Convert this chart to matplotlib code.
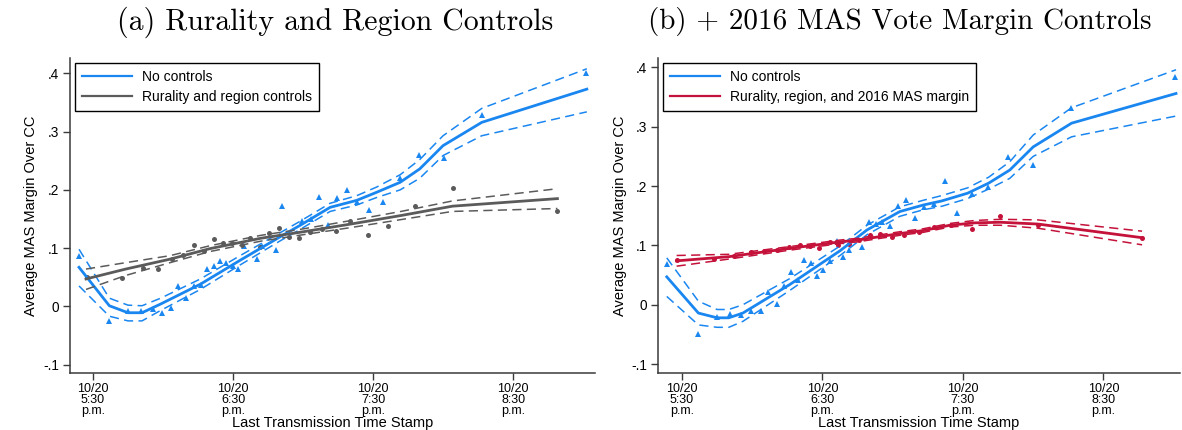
import matplotlib
matplotlib.use('Agg')
import matplotlib.pyplot as plt

# ---------------- data (x: minutes after 10/20 5:30 p.m.) ----------------
tick_pos = [0, 60, 120, 180]
tick_labels = ['10/20\n5:30\np.m.', '10/20\n6:30\np.m.', '10/20\n7:30\np.m.', '10/20\n8:30\np.m.']
ytick_vals = [-0.1, 0, 0.1, 0.2, 0.3, 0.4]
ytick_labels = ['-.1', '0', '.1', '.2', '.3', '.4']

# Panel (a): no controls (blue)
a_blue_x = [-6, 7, 15, 21, 29, 46, 63, 80, 88.7, 101.6, 113, 121.6, 131.6, 140, 150, 166.6, 211.6]
a_blue_y = [0.067, 0.001, -0.011, -0.011, 0.004, 0.038, 0.079, 0.119, 0.139, 0.170, 0.182, 0.196, 0.213, 0.236, 0.276, 0.316, 0.373]
a_blue_hi = [0.098, 0.014, 0.002, 0.001, 0.014, 0.047, 0.087, 0.126, 0.146, 0.177, 0.190, 0.205, 0.226, 0.252, 0.293, 0.340, 0.408]
a_blue_lo = [0.035, -0.017, -0.025, -0.025, -0.007, 0.029, 0.071, 0.112, 0.132, 0.163, 0.174, 0.187, 0.200, 0.220, 0.259, 0.293, 0.334]
a_blue_pts_x = [-6.0, 6.9, 14.9, 20.4, 25.5, 29.6, 33.3, 36.6, 39.9, 43.1, 46.3, 49.0, 51.9, 54.5, 57.0, 59.8,
                62.2, 64.6, 70.2, 72.4, 78.3, 81.1, 89.4, 93.6, 96.9, 100.6, 104.4, 108.7, 113.3, 118.4, 124.4,
                131.4, 139.8, 150.4, 166.8, 211.3]
a_blue_pts_y = [0.086, -0.025, -0.008, -0.0075, -0.005, -0.0115, -0.003, 0.035, 0.015, 0.035, 0.037, 0.064, 0.069,
                0.077, 0.074, 0.069, 0.064, 0.104, 0.082, 0.103, 0.096, 0.172, 0.146, 0.150, 0.187, 0.139, 0.186,
                0.199, 0.180, 0.165, 0.179, 0.220, 0.260, 0.254, 0.328, 0.400]

# Panel (a): rurality and region controls (gray)
a_gray_x = [-3, 14, 33, 50, 72, 90, 110, 132, 154, 199]
a_gray_y = [0.047, 0.064, 0.081, 0.099, 0.117, 0.128, 0.141, 0.156, 0.172, 0.185]
a_gray_hi = [0.064, 0.075, 0.087, 0.104, 0.122, 0.133, 0.147, 0.163, 0.181, 0.202]
a_gray_lo = [0.029, 0.053, 0.075, 0.094, 0.112, 0.123, 0.135, 0.149, 0.163, 0.168]
a_gray_pts_x = [-2.7, 12.6, 21.4, 28.0, 33.7, 38.7, 43.4, 47.6, 51.9, 55.7, 59.7, 63.7, 67.4, 71.6, 75.4, 79.7,
                84.0, 88.3, 93.0, 98.3, 104.0, 110.3, 117.7, 126.6, 138.0, 154.2, 199.0]
a_gray_pts_y = [0.0496, 0.048, 0.066, 0.064, 0.0805, 0.088, 0.106, 0.0957, 0.1157, 0.109, 0.109, 0.106, 0.117,
                0.102, 0.126, 0.135, 0.119, 0.118, 0.127, 0.133, 0.130, 0.146, 0.122, 0.138, 0.172, 0.203, 0.163]

# Panel (b): no controls (blue)
b_blue_x = [-6.5, 7, 15, 20, 26, 46, 67.5, 79, 93, 103, 111, 122, 131, 140, 150, 166.4, 211]
b_blue_y = [0.047, -0.014, -0.022, -0.022, -0.014, 0.034, 0.091, 0.126, 0.157, 0.168, 0.175, 0.188, 0.205, 0.227, 0.266, 0.306, 0.356]
b_blue_hi = [0.079, 0.006, -0.008, -0.008, 0.000, 0.044, 0.099, 0.134, 0.165, 0.176, 0.184, 0.197, 0.215, 0.241, 0.286, 0.332, 0.396]
b_blue_lo = [0.014, -0.034, -0.038, -0.038, -0.028, 0.024, 0.083, 0.118, 0.149, 0.160, 0.166, 0.179, 0.195, 0.213, 0.250, 0.283, 0.318]
b_blue_pts_x = [-6.2, 7, 14.8, 20.5, 25.2, 29.6, 33.6, 36.9, 40.4, 43.7, 46.7, 49.6, 52.3, 55, 57.7, 60.3, 63.2,
                66, 68.6, 71.4, 76.7, 79.9, 82.7, 85.5, 88.8, 92.4, 95.8, 99.5, 103.5, 107.7, 112.3, 117.6, 123.7,
                130.8, 139.4, 149.8, 166.1, 210.5]
b_blue_pts_y = [0.069, -0.050, -0.020, -0.016, -0.017, -0.010, -0.010, 0.022, 0.002, 0.032, 0.056, 0.041, 0.075,
                0.070, 0.049, 0.058, 0.073, 0.108, 0.081, 0.093, 0.098, 0.140, 0.136, 0.140, 0.133, 0.167, 0.177,
                0.147, 0.165, 0.170, 0.208, 0.154, 0.187, 0.198, 0.249, 0.235, 0.331, 0.384]

# Panel (b): rurality, region, and 2016 MAS margin (red)
b_red_x = [-2.3, 20, 46, 67.5, 75, 93, 103, 114.4, 125, 136, 152, 196.5]
b_red_y = [0.074, 0.081, 0.095, 0.106, 0.109, 0.120, 0.125, 0.134, 0.138, 0.139, 0.136, 0.113]
b_red_hi = [0.083, 0.085, 0.098, 0.109, 0.112, 0.123, 0.128, 0.137, 0.142, 0.144, 0.143, 0.124]
b_red_lo = [0.065, 0.077, 0.092, 0.103, 0.106, 0.117, 0.122, 0.131, 0.134, 0.134, 0.129, 0.101]
b_red_pts_x = [-2, 13.5, 22, 29.3, 35, 40.5, 45.7, 50.2, 54.8, 58.7, 63, 66.8, 71.4, 75.7, 80.3, 84.5, 89.5,
               94.9, 101.3, 107.7, 114.9, 123.8, 135.7, 151.9, 196.5]
b_red_pts_y = [0.075, 0.077, 0.082, 0.089, 0.090, 0.092, 0.098, 0.100, 0.099, 0.095, 0.105, 0.101, 0.102, 0.109,
               0.118, 0.119, 0.115, 0.118, 0.122, 0.131, 0.135, 0.128, 0.150, 0.135, 0.113]

titles = ['(a) Rurality and Region Controls', '(b) + 2016 MAS Vote Margin Controls']
legend_a = ['No controls', 'Rurality and region controls']
legend_b = ['No controls', 'Rurality, region, and 2016 MAS margin']
ylabel = 'Average MAS Margin Over CC'
xlabel = 'Last Transmission Time Stamp'

# ---------------- styling ----------------
BLUE = '#1a86f0'
GRAY = '#5b5b5b'
RED = '#c4123a'
W, H = 1182, 430
plt.rcParams['font.family'] = ['Liberation Sans', 'DejaVu Sans']

fig = plt.figure(figsize=(W / 100, H / 100), dpi=100)


def px_axes(l, r, t, b):
    return fig.add_axes([l / W, 1 - b / H, (r - l) / W, (b - t) / H])


def style(ax, xlim, ylim, left_px, right_px):
    ax.set_xlim(*xlim)
    ax.set_ylim(*ylim)
    for s in ['top', 'right']:
        ax.spines[s].set_visible(False)
    for s in ['left', 'bottom']:
        ax.spines[s].set_color('#3a3a3a')
        ax.spines[s].set_linewidth(1.1)
    ax.set_xticks(tick_pos)
    ax.set_xticklabels(tick_labels, fontsize=9.0, linespacing=0.88)
    ax.set_yticks(ytick_vals)
    ax.set_yticklabels(ytick_labels, fontsize=9.8)
    ax.tick_params(axis='both', direction='out', length=5, width=1, color='#3a3a3a', pad=3)
    ax.tick_params(axis='x', pad=2.5)
    ax.set_ylabel(ylabel, fontsize=10.5, labelpad=7)
    fig.text((left_px + right_px) / 2 / W, 1 - 423 / H, xlabel, ha='center', va='center', fontsize=10.5)


def draw_fit(ax, x, y, hi, lo, color):
    ax.plot(x, hi, color=color, lw=1.1, dashes=(6, 3.5))
    ax.plot(x, lo, color=color, lw=1.1, dashes=(6, 3.5))
    line, = ax.plot(x, y, color=color, lw=2.0)
    return line


def add_legend(ax, handles, labels):
    leg = ax.legend(handles, labels, loc='upper left', bbox_to_anchor=(0.01, 0.985), fontsize=10,
                    fancybox=False, framealpha=1, edgecolor='black', handlelength=3.6, borderpad=0.5,
                    labelspacing=0.45, handletextpad=0.7, borderaxespad=0)
    leg.get_frame().set_linewidth(1.0)
    for ln in leg.get_lines():
        ln.set_linewidth(1.6)


# Panel (a)
ax1 = px_axes(70, 595, 58, 373)
style(ax1, (-9.86, 215.1), (-0.1145, 0.4265), 70, 595)
ax1.plot(a_blue_pts_x, a_blue_pts_y, linestyle='none', marker='^', ms=4, color=BLUE, mew=0)
ax1.plot(a_gray_pts_x, a_gray_pts_y, linestyle='none', marker='o', ms=3.6, color=GRAY, mew=0)
l1 = draw_fit(ax1, a_blue_x, a_blue_y, a_blue_hi, a_blue_lo, BLUE)
l2 = draw_fit(ax1, a_gray_x, a_gray_y, a_gray_hi, a_gray_lo, GRAY)
add_legend(ax1, [l1, l2], legend_a)

# Panel (b)
ax2 = px_axes(658, 1180, 58, 373)
style(ax2, (-10.25, 212.7), (-0.115, 0.4158), 658, 1180)
ax2.plot(b_blue_pts_x, b_blue_pts_y, linestyle='none', marker='^', ms=4, color=BLUE, mew=0)
ax2.plot(b_red_pts_x, b_red_pts_y, linestyle='none', marker='o', ms=3.6, color=RED, mew=0)
l3 = draw_fit(ax2, b_blue_x, b_blue_y, b_blue_hi, b_blue_lo, BLUE)
l4 = draw_fit(ax2, b_red_x, b_red_y, b_red_hi, b_red_lo, RED)
add_legend(ax2, [l3, l4], legend_b)

for ax in (ax1, ax2):
    ax.yaxis.set_label_coords(-0.06, 0.5)

# Titles
fig.text(335 / W, 1 - 22 / H, titles[0], ha='center', va='center', fontsize=21.5, family='cmr10')
fig.text(900 / W, 1 - 22 / H, titles[1], ha='center', va='center', fontsize=21, family='cmr10')

fig.savefig('out.png', dpi=100, facecolor='white')
